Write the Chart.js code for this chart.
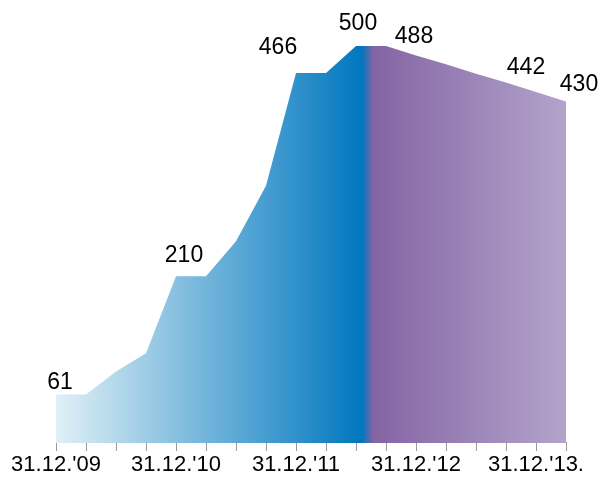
<!DOCTYPE html>
<html>
<head>
<meta charset="utf-8">
<script src="https://cdn.jsdelivr.net/npm/chart.js@4"></script>
<style>
  body { margin: 0; background: #fff; }
  canvas { display: block; }
</style>
</head>
<body>
<canvas id="chart" width="603" height="479"></canvas>
<script>
// quarter ends, 31.12.2009 .. 31.03.2014
const quarters = ['Q4 09', 'Q1 10', 'Q2 10', 'Q3 10', 'Q4 10', 'Q1 11', 'Q2 11', 'Q3 11', 'Q4 11',
    'Q1 12', 'Q2 12', 'Q3 12', 'Q4 12', 'Q1 13', 'Q2 13', 'Q3 13', 'Q4 13', 'Q1 14'];
const values = [61, 61, 90, 113, 210, 210, 254, 324, 466, 466, 500, 500, 488, 477, 465, 454, 442, 430];
const tickLabels = ["31.12.'09", '', '', '', "31.12.'10", '', '', '', "31.12.'11", '', '', '',
    "31.12.'12", '', '', '', "31.12.'13.", ''];
const labelledPoints = [0, 4, 8, 10, 12, 16, 17];

// where each value label sits relative to its point
const labelShift = {0: [4, -6], 4: [8, -14], 8: [-18, -19], 10: [2, -16], 12: [-2, -13], 16: [-10, -18], 17: [13, -11]};

const fontFamily = '"Liberation Sans", Arial, sans-serif';

function areaFill(context) {
    const area = context.chart.chartArea;
    if (!area) return '#0078c0';
    const g = context.chart.ctx.createLinearGradient(area.left, 0, area.right, 0);
    g.addColorStop(0, '#e0f0f6');
    g.addColorStop(0.6, '#0077bf');
    g.addColorStop(0.622, '#8464a4');
    g.addColorStop(1, '#b3a4cb');
    return g;
}

const valueLabels = {
    id: 'valueLabels',
    afterDatasetsDraw(chart) {
        const ctx = chart.ctx;
        const meta = chart.getDatasetMeta(0);
        ctx.save();
        ctx.font = '23px ' + fontFamily;
        ctx.fillStyle = '#000';
        ctx.textAlign = 'center';
        ctx.textBaseline = 'alphabetic';
        labelledPoints.forEach(i => {
            const p = meta.data[i];
            const s = labelShift[i];
            ctx.fillText(String(values[i]), p.x + s[0], p.y + s[1]);
        });
        ctx.restore();
    }
};

new Chart(document.getElementById('chart'), {
    type: 'line',
    data: {
        labels: quarters,
        datasets: [{
            data: values,
            fill: 'origin',
            backgroundColor: areaFill,
            borderWidth: 0,
            pointRadius: 0,
            tension: 0
        }]
    },
    options: {
        responsive: false,
        animation: false,
        layout: { padding: { left: 56, right: 37, top: 46, bottom: 0 } },
        plugins: { legend: { display: false }, tooltip: { enabled: false } },
        scales: {
            x: {
                offset: false,
                border: { display: true, color: '#9a9a9a', width: 1 },
                grid: { drawOnChartArea: false, drawTicks: true, tickLength: 8, color: '#9a9a9a' },
                ticks: {
                    autoSkip: false,
                    maxRotation: 0,
                    padding: 9,
                    color: '#000',
                    font: { family: fontFamily, size: 22, lineHeight: 0.455 },
                    callback: (v, i) => tickLabels[i]
                }
            },
            y: {
                display: false,
                min: 0,
                max: 500
            }
        }
    },
    plugins: [valueLabels]
});
</script>
</body>
</html>
